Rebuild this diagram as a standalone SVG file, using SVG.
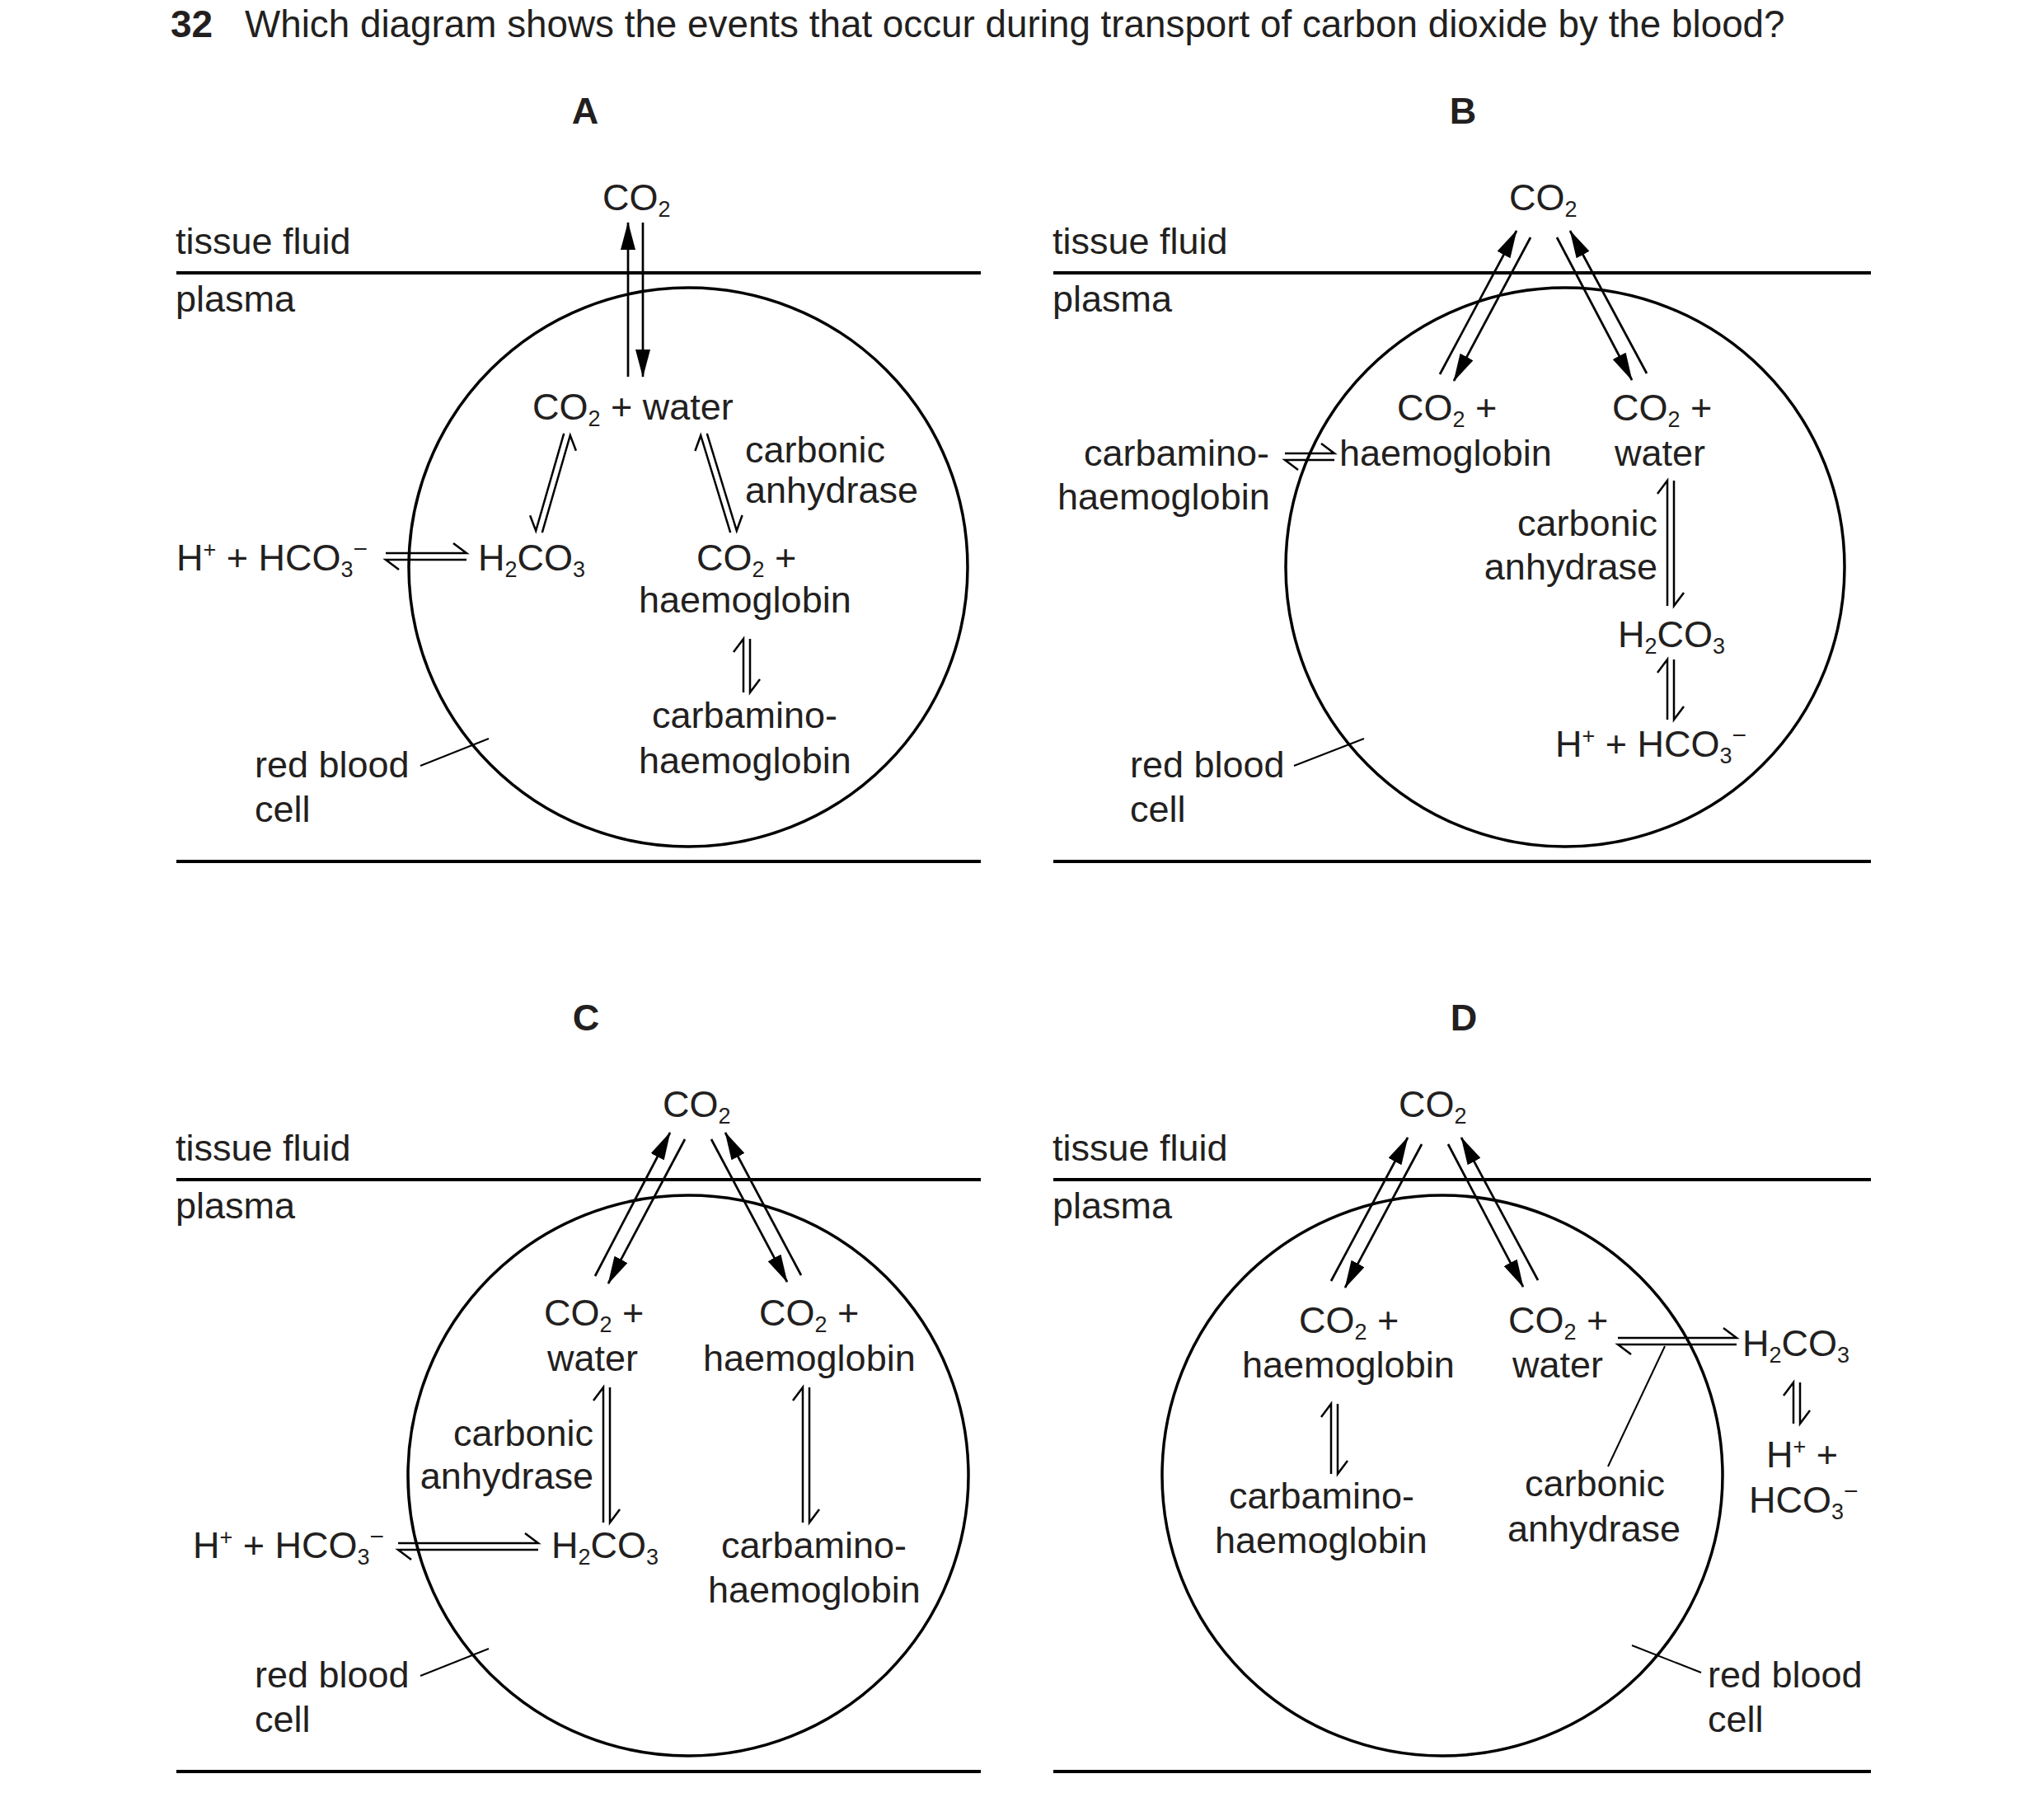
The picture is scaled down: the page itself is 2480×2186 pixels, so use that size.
<svg xmlns="http://www.w3.org/2000/svg" width="2480" height="2186" viewBox="0 0 2480 2186">
<defs>
<style>
.t{font-family:"Liberation Sans",Arial,Helvetica,sans-serif;font-size:45px;fill:#231f20}
.b{font-weight:bold}
.s{font-size:27px}
.mi{font-size:30px}
.e{text-anchor:end}
.m{text-anchor:middle}
.rule{stroke:#000;stroke-width:4;fill:none}
.cell{fill:none;stroke:#000;stroke-width:3.5}
.arr{stroke:#000;stroke-width:2.7;fill:none;marker-end:url(#ah)}
.eq{stroke:#000;stroke-width:2.5;fill:none;stroke-linejoin:miter;stroke-miterlimit:10}
.lead{stroke:#000;stroke-width:2;fill:none}
</style>
<marker id="ah" markerUnits="userSpaceOnUse" markerWidth="34" markerHeight="18" refX="33" refY="9" orient="auto">
<path d="M0,0 L34,9 L0,18 z" fill="#000"/>
</marker>
</defs>
<rect width="2480" height="2186" fill="#fff"/>

<g id="title">
<text class="t b" x="207" y="45" style="font-size:46px">32</text>
<text class="t" x="297" y="45" style="font-size:45.8px">Which diagram shows the events that occur during transport of carbon dioxide by the blood?</text>
</g>

<!-- ================= PANEL A ================= -->
<g id="panelA">
<text id="A-label" class="t b m" x="710" y="150">A</text>
<g id="A-tissue"><text class="t" x="213" y="308">tissue fluid</text></g>
<g id="A-plasma"><text class="t" x="213" y="378">plasma</text></g>
<line class="rule" x1="214" y1="331" x2="1190" y2="331"/>
<line class="rule" x1="214" y1="1045" x2="1190" y2="1045"/>
<g id="A-cell"><circle class="cell" cx="835" cy="688" r="339"/></g>
<g id="A-co2"><text class="t" x="731" y="255">CO<tspan class="s" dy="8">2</tspan></text></g>
<g id="A-co2water"><text class="t" x="646" y="509">CO<tspan class="s" dy="8">2</tspan><tspan dy="-8"> + water</tspan></text></g>
<g id="A-ca"><text class="t" x="904" y="561">carbonic</text><text class="t" x="904" y="610">anhydrase</text></g>
<g id="A-ions"><text class="t" x="214" y="692">H<tspan class="s" dy="-16">+</tspan><tspan dy="16"> + HCO</tspan><tspan class="s" dy="8">3</tspan><tspan class="mi" dy="-24">−</tspan></text></g>
<g id="A-h2co3"><text class="t" x="580" y="692">H<tspan class="s" dy="8">2</tspan><tspan dy="-8">CO</tspan><tspan class="s" dy="8">3</tspan></text></g>
<g id="A-co2hb"><text class="t" x="845" y="692">CO<tspan class="s" dy="8">2</tspan><tspan dy="-8"> +</tspan></text><text class="t" x="775" y="743">haemoglobin</text></g>
<g id="A-carb"><text class="t" x="791" y="883">carbamino-</text><text class="t" x="775" y="938">haemoglobin</text></g>
<g id="A-rbc"><text class="t" x="309" y="943">red blood</text><text class="t" x="309" y="997">cell</text></g>
<g id="A-connectors">
<path class="arr" d="M762,457 L762,270"/>
<path class="arr" d="M780,270 L780,457"/>
<path class="eq" d="M684.2,525.9 L650.2,643.9 L643.1,625.2"/>
<path class="eq" d="M657.8,646.1 L691.8,528.1 L698.9,546.8"/>
<path class="eq" d="M886.2,646.2 L850.2,528.2 L843.4,547"/>
<path class="eq" d="M857.8,525.8 L893.8,643.8 L900.6,625"/>
<path class="eq" d="M902,840 L902,775 L890,791"/>
<path class="eq" d="M910,775 L910,840 L922,824"/>
<path class="eq" d="M468,671 L566,671 L550,659"/>
<path class="eq" d="M566,679 L468,679 L484,691"/>
<line class="lead" x1="510" y1="929" x2="593" y2="896"/>
</g>
</g>

<!-- ================= PANEL B ================= -->
<g id="panelB">
<text id="B-label" class="t b m" x="1775" y="150">B</text>
<g id="B-tissue"><text class="t" x="1277" y="308">tissue fluid</text></g>
<g id="B-plasma"><text class="t" x="1277" y="378">plasma</text></g>
<line class="rule" x1="1278" y1="331" x2="2270" y2="331"/>
<line class="rule" x1="1278" y1="1045" x2="2270" y2="1045"/>
<g id="B-cell"><circle class="cell" cx="1899" cy="688" r="339"/></g>
<g id="B-co2"><text class="t" x="1831" y="255">CO<tspan class="s" dy="8">2</tspan></text></g>
<g id="B-co2hb"><text class="t" x="1695" y="510">CO<tspan class="s" dy="8">2</tspan><tspan dy="-8"> +</tspan></text><text class="t" x="1625" y="565">haemoglobin</text></g>
<g id="B-carb"><text class="t" x="1315" y="565">carbamino-</text><text class="t" x="1283" y="618">haemoglobin</text></g>
<g id="B-co2water"><text class="t" x="1956" y="510">CO<tspan class="s" dy="8">2</tspan><tspan dy="-8"> +</tspan></text><text class="t" x="1959" y="565">water</text></g>
<g id="B-ca"><text class="t e" x="2011" y="650">carbonic</text><text class="t e" x="2011" y="703">anhydrase</text></g>
<g id="B-h2co3"><text class="t" x="1963" y="785">H<tspan class="s" dy="8">2</tspan><tspan dy="-8">CO</tspan><tspan class="s" dy="8">3</tspan></text></g>
<g id="B-ions"><text class="t" x="1887" y="918">H<tspan class="s" dy="-16">+</tspan><tspan dy="16"> + HCO</tspan><tspan class="s" dy="8">3</tspan><tspan class="mi" dy="-24">−</tspan></text></g>
<g id="B-rbc"><text class="t" x="1371" y="943">red blood</text><text class="t" x="1371" y="997">cell</text></g>
<g id="B-connectors">
<path class="arr" d="M1747,454 L1840,280"/>
<path class="arr" d="M1857,288 L1764,462"/>
<path class="arr" d="M1889,288 L1980,461"/>
<path class="arr" d="M1998,453 L1905,280"/>
<path class="eq" d="M1559,550 L1619,550 L1603,538"/>
<path class="eq" d="M1619,558 L1559,558 L1575,570"/>
<path class="eq" d="M2023,735 L2023,583 L2011,599"/>
<path class="eq" d="M2031,583 L2031,735 L2043,719"/>
<path class="eq" d="M2023,873 L2023,800 L2011,816"/>
<path class="eq" d="M2031,800 L2031,873 L2043,857"/>
<line class="lead" x1="1570" y1="929" x2="1655" y2="896"/>
</g>
</g>

<!-- ================= PANEL C ================= -->
<g id="panelC">
<text id="C-label" class="t b m" x="711" y="1250">C</text>
<g id="C-tissue"><text class="t" x="213" y="1408">tissue fluid</text></g>
<g id="C-plasma"><text class="t" x="213" y="1478">plasma</text></g>
<line class="rule" x1="214" y1="1431" x2="1190" y2="1431"/>
<line class="rule" x1="214" y1="2149" x2="1190" y2="2149"/>
<g id="C-cell"><circle class="cell" cx="835" cy="1790" r="340"/></g>
<g id="C-co2"><text class="t" x="804" y="1355">CO<tspan class="s" dy="8">2</tspan></text></g>
<g id="C-co2water"><text class="t" x="660" y="1608">CO<tspan class="s" dy="8">2</tspan><tspan dy="-8"> +</tspan></text><text class="t" x="664" y="1663">water</text></g>
<g id="C-co2hb"><text class="t" x="921" y="1608">CO<tspan class="s" dy="8">2</tspan><tspan dy="-8"> +</tspan></text><text class="t" x="853" y="1663">haemoglobin</text></g>
<g id="C-ca"><text class="t e" x="720" y="1754">carbonic</text><text class="t e" x="720" y="1806">anhydrase</text></g>
<g id="C-ions"><text class="t" x="234" y="1890">H<tspan class="s" dy="-16">+</tspan><tspan dy="16"> + HCO</tspan><tspan class="s" dy="8">3</tspan><tspan class="mi" dy="-24">−</tspan></text></g>
<g id="C-h2co3"><text class="t" x="669" y="1890">H<tspan class="s" dy="8">2</tspan><tspan dy="-8">CO</tspan><tspan class="s" dy="8">3</tspan></text></g>
<g id="C-carb"><text class="t" x="875" y="1890">carbamino-</text><text class="t" x="859" y="1944">haemoglobin</text></g>
<g id="C-rbc"><text class="t" x="309" y="2047">red blood</text><text class="t" x="309" y="2101">cell</text></g>
<g id="C-connectors">
<path class="arr" d="M722,1548 L813,1374"/>
<path class="arr" d="M831,1382 L738,1557"/>
<path class="arr" d="M863,1382 L955,1555"/>
<path class="arr" d="M972,1547 L880,1374"/>
<path class="eq" d="M732,1847 L732,1683 L720,1699"/>
<path class="eq" d="M740,1683 L740,1847 L752,1831"/>
<path class="eq" d="M974,1847 L974,1683 L962,1699"/>
<path class="eq" d="M982,1683 L982,1847 L994,1831"/>
<path class="eq" d="M483,1872 L653,1872 L637,1860"/>
<path class="eq" d="M653,1880 L483,1880 L499,1892"/>
<line class="lead" x1="510" y1="2033" x2="593" y2="2000"/>
</g>
</g>

<!-- ================= PANEL D ================= -->
<g id="panelD">
<text id="D-label" class="t b m" x="1776" y="1250">D</text>
<g id="D-tissue"><text class="t" x="1277" y="1408">tissue fluid</text></g>
<g id="D-plasma"><text class="t" x="1277" y="1478">plasma</text></g>
<line class="rule" x1="1278" y1="1431" x2="2270" y2="1431"/>
<line class="rule" x1="1278" y1="2149" x2="2270" y2="2149"/>
<g id="D-cell"><circle class="cell" cx="1750" cy="1790" r="340"/></g>
<g id="D-co2"><text class="t" x="1697" y="1355">CO<tspan class="s" dy="8">2</tspan></text></g>
<g id="D-co2hb"><text class="t" x="1576" y="1617">CO<tspan class="s" dy="8">2</tspan><tspan dy="-8"> +</tspan></text><text class="t" x="1507" y="1671">haemoglobin</text></g>
<g id="D-co2water"><text class="t" x="1830" y="1617">CO<tspan class="s" dy="8">2</tspan><tspan dy="-8"> +</tspan></text><text class="t" x="1835" y="1671">water</text></g>
<g id="D-h2co3"><text class="t" x="2114" y="1645">H<tspan class="s" dy="8">2</tspan><tspan dy="-8">CO</tspan><tspan class="s" dy="8">3</tspan></text></g>
<g id="D-ions"><text class="t" x="2143" y="1780">H<tspan class="s" dy="-16">+</tspan><tspan dy="16"> +</tspan></text><text class="t" x="2122" y="1835">HCO<tspan class="s" dy="8">3</tspan><tspan class="mi" dy="-24">−</tspan></text></g>
<g id="D-carb"><text class="t" x="1491" y="1830">carbamino-</text><text class="t" x="1474" y="1884">haemoglobin</text></g>
<g id="D-ca"><text class="t" x="1850" y="1815">carbonic</text><text class="t" x="1829" y="1870">anhydrase</text></g>
<g id="D-rbc"><text class="t" x="2072" y="2047">red blood</text><text class="t" x="2072" y="2101">cell</text></g>
<g id="D-connectors">
<path class="arr" d="M1615,1554 L1708,1380"/>
<path class="arr" d="M1725,1388 L1632,1562"/>
<path class="arr" d="M1757,1388 L1848,1561"/>
<path class="arr" d="M1866,1553 L1773,1380"/>
<path class="eq" d="M1615,1788 L1615,1703 L1603,1719"/>
<path class="eq" d="M1623,1703 L1623,1788 L1635,1772"/>
<path class="eq" d="M1963,1623 L2107,1623 L2091,1611"/>
<path class="eq" d="M2107,1631 L1963,1631 L1979,1643"/>
<path class="eq" d="M2176,1727 L2176,1677 L2164,1693"/>
<path class="eq" d="M2184,1677 L2184,1727 L2196,1711"/>
<line class="lead" x1="1951" y1="1779" x2="2020" y2="1633"/>
<line class="lead" x1="1980" y1="1996" x2="2064" y2="2029"/>
</g>
</g>
</svg>
